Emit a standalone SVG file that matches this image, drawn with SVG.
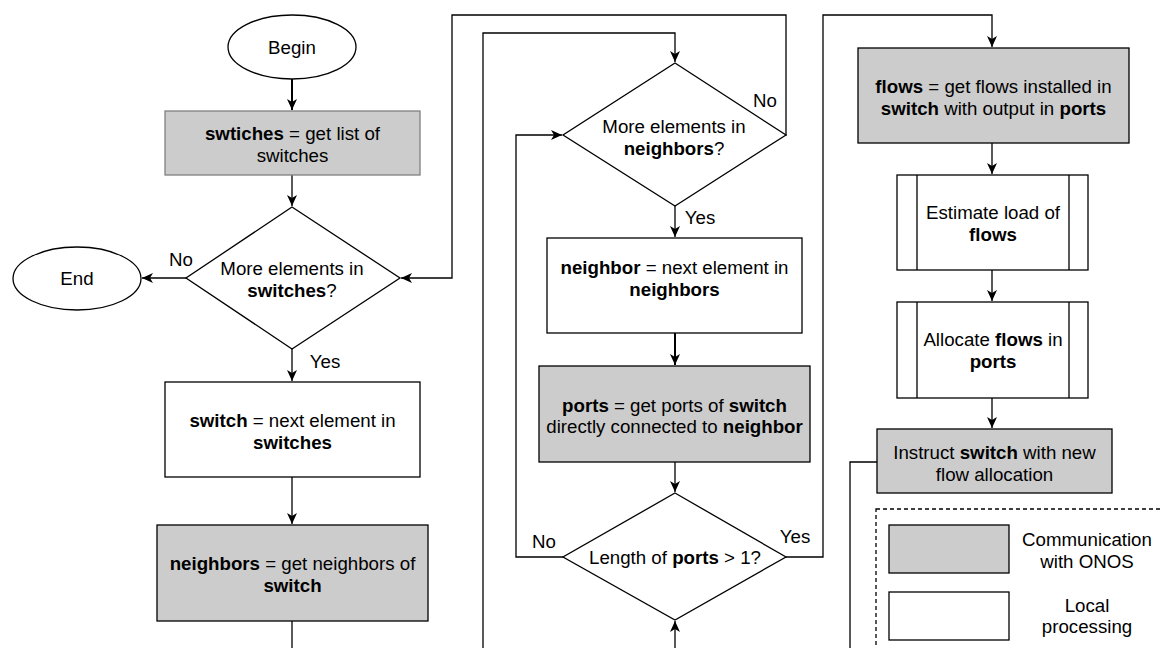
<svg xmlns="http://www.w3.org/2000/svg" width="1161" height="648" viewBox="0 0 1161 648">
<defs>
<style>
text{font-family:"Liberation Sans",Arial,Helvetica,sans-serif;font-size:18.7px;fill:#000;text-anchor:middle}
.b{font-weight:bold}
.sh{stroke:#000;stroke-width:1.3;fill:#fff}
.gr{stroke:#000;stroke-width:1.3;fill:#cccccc}
.ln{stroke:#000;stroke-width:1.3;fill:none}
</style>
<marker id="arr" markerWidth="13" markerHeight="12" refX="11" refY="5.5" orient="auto" markerUnits="userSpaceOnUse">
<path d="M0,0.5 L11,5.5 L0,10.5 L3,5.5 Z" fill="#000"/>
</marker>
</defs>
<rect width="1161" height="648" fill="#fff"/>

<g id="connectors">
<path class="ln" style="stroke-width:2" d="M292,79 V110" marker-end="url(#arr)"/>
<path class="ln" d="M292,175 V206" marker-end="url(#arr)"/>
<path class="ln" d="M186,278 H142" marker-end="url(#arr)"/>
<path class="ln" d="M292,349 V381" marker-end="url(#arr)"/>
<path class="ln" d="M292,477 V524" marker-end="url(#arr)"/>
<path class="ln" d="M292,621 V660"/>
<path class="ln" d="M483,660 V33 H675 V62" marker-end="url(#arr)"/>
<path class="ln" d="M785,135 H786 V15 H452 V278 H401" marker-end="url(#arr)"/>
<path class="ln" d="M675,206 V237" marker-end="url(#arr)"/>
<path class="ln" style="stroke-width:2" d="M675,333 V365" marker-end="url(#arr)"/>
<path class="ln" d="M675,462 V492" marker-end="url(#arr)"/>
<path class="ln" d="M563,557 H516 V135 H562" marker-end="url(#arr)"/>
<path class="ln" d="M786,557 H823 V15 H992 V47" marker-end="url(#arr)"/>
<path class="ln" d="M675,660 V621" marker-end="url(#arr)"/>
<path class="ln" d="M992,143 V174" marker-end="url(#arr)"/>
<path class="ln" d="M992,270 V301" marker-end="url(#arr)"/>
<path class="ln" d="M992,398 V428" marker-end="url(#arr)"/>
<path class="ln" d="M877,462 H850 V660"/>
<text x="181" y="265.5">No</text>
<text x="325" y="367.5">Yes</text>
<text x="765" y="106.5">No</text>
<text x="700" y="223.5">Yes</text>
<text x="544" y="547.5">No</text>
<text x="795" y="542.5">Yes</text>
</g>

<g id="begin">
<ellipse class="sh" cx="292" cy="47" rx="64" ry="32"/>
<text x="292" y="54">Begin</text>
</g>

<g id="get-switches">
<rect x="165" y="111" width="255" height="64" fill="#cccccc" stroke="#808080" stroke-width="1.3"/>
<text x="292.5" y="140"><tspan class="b">swtiches</tspan> = get list of</text>
<text x="292.5" y="162">switches</text>
</g>

<g id="more-switches">
<polygon class="sh" points="292,207 400,278 292,349 186,278"/>
<text x="292" y="275">More elements in</text>
<text x="292" y="297"><tspan class="b">switches</tspan>?</text>
</g>

<g id="end">
<ellipse class="sh" cx="77" cy="278.5" rx="64" ry="31.5"/>
<text x="77" y="285">End</text>
</g>

<g id="next-switch">
<rect class="sh" x="165" y="382" width="255" height="95"/>
<text x="292.5" y="426.5"><tspan class="b">switch</tspan> = next element in</text>
<text x="292.5" y="448.5" class="b">switches</text>
</g>

<g id="get-neighbors">
<rect class="gr" x="157" y="525" width="271" height="96"/>
<text x="292.5" y="570"><tspan class="b">neighbors</tspan> = get neighbors of</text>
<text x="292.5" y="592" class="b">switch</text>
</g>

<g id="more-neighbors">
<polygon class="sh" points="675,63 786,135 675,206 563,135"/>
<text x="674" y="133">More elements in</text>
<text x="674" y="155"><tspan class="b">neighbors</tspan>?</text>
</g>

<g id="next-neighbor">
<rect class="sh" x="547" y="238" width="255" height="95"/>
<text x="674.5" y="274"><tspan class="b">neighbor</tspan> = next element in</text>
<text x="674.5" y="296" class="b">neighbors</text>
</g>

<g id="get-ports">
<rect class="gr" x="539" y="366" width="271" height="96"/>
<text x="674.5" y="411.5"><tspan class="b">ports</tspan> = get ports of <tspan class="b">switch</tspan></text>
<text x="674.5" y="433">directly connected to <tspan class="b">neighbor</tspan></text>
</g>

<g id="length-ports">
<polygon class="sh" points="675,493 786,557 675,620 563,557"/>
<text x="675" y="563.5">Length of <tspan class="b">ports</tspan> &gt; 1?</text>
</g>

<g id="get-flows">
<rect class="gr" x="858" y="48" width="271" height="95"/>
<text x="993.5" y="92.5"><tspan class="b">flows</tspan> = get flows installed in</text>
<text x="993.5" y="114.5"><tspan class="b">switch</tspan> with output in <tspan class="b">ports</tspan></text>
</g>

<g id="estimate-load">
<rect class="sh" x="897" y="175" width="191" height="95"/>
<path class="ln" d="M917,175 V270 M1069,175 V270"/>
<text x="993" y="219">Estimate load of</text>
<text x="993" y="241" class="b">flows</text>
</g>

<g id="allocate-flows">
<rect class="sh" x="897" y="302" width="191" height="96"/>
<path class="ln" d="M917,302 V398 M1069,302 V398"/>
<text x="993" y="346">Allocate <tspan class="b">flows</tspan> in</text>
<text x="993" y="368" class="b">ports</text>
</g>

<g id="instruct-switch">
<rect class="gr" x="877" y="429" width="235" height="64"/>
<text x="994.5" y="459">Instruct <tspan class="b">switch</tspan> with new</text>
<text x="994.5" y="481">flow allocation</text>
</g>

<g id="legend">
<rect x="876" y="509" width="300" height="160" fill="none" stroke="#000" stroke-width="1.3" stroke-dasharray="4 3"/>
<rect class="gr" x="889" y="525" width="120" height="48"/>
<text x="1087" y="545.5">Communication</text>
<text x="1087" y="567.5">with ONOS</text>
<rect class="sh" x="889" y="592" width="120" height="48"/>
<text x="1087" y="611.5">Local</text>
<text x="1087" y="633">processing</text>
</g>
</svg>
